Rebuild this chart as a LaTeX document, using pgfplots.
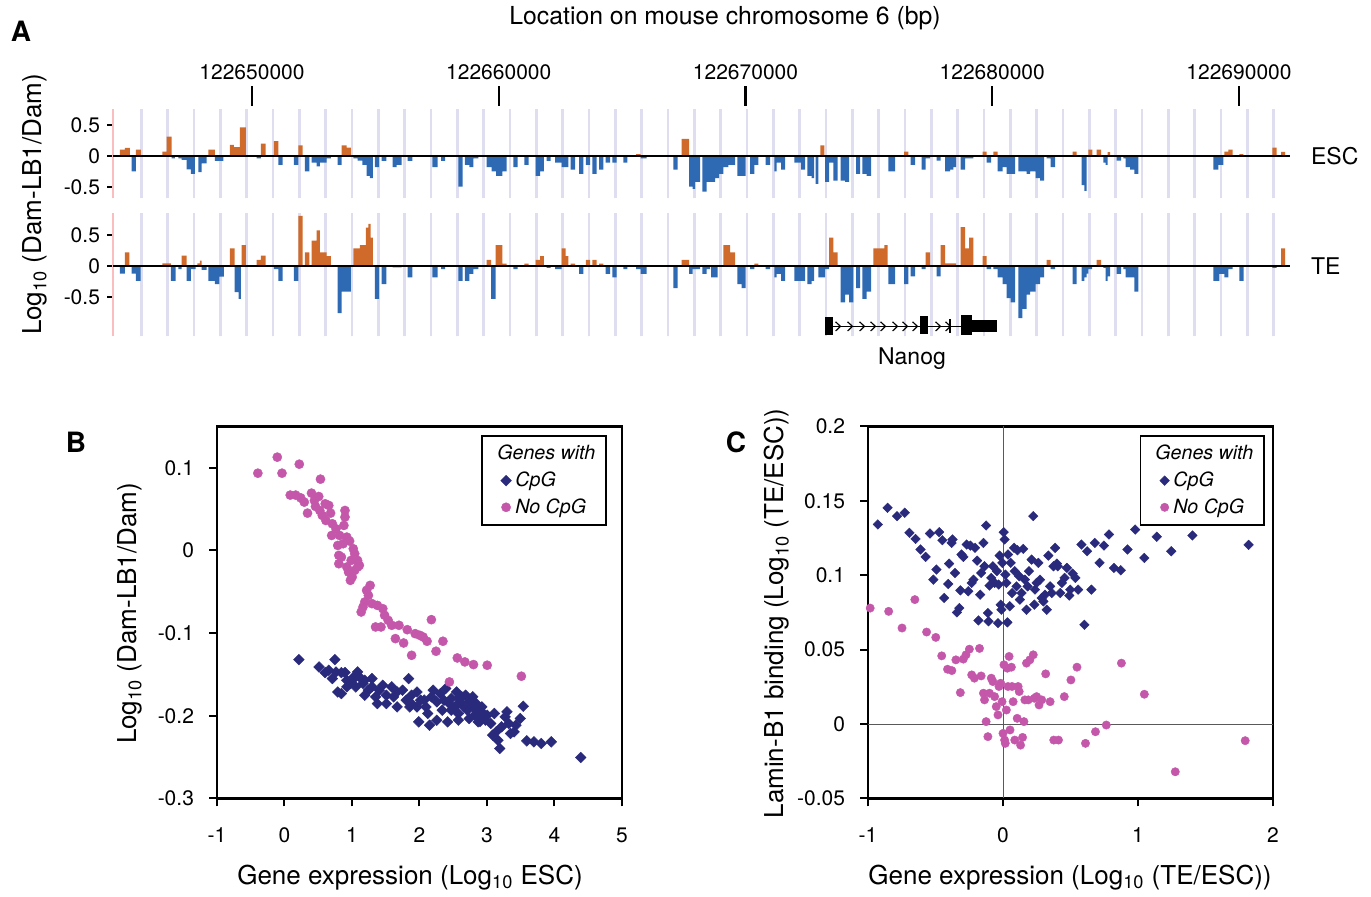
\documentclass[border=0pt]{standalone}
\usepackage{fontspec}
\setmainfont{TeX Gyre Heros}
\usepackage{pgfplots}
\usepackage{pgfplotstable}
\pgfplotsset{compat=1.18}
\definecolor{barorange}{RGB}{208,106,42}
\definecolor{barblue}{RGB}{46,106,180}
\definecolor{gridlav}{RGB}{222,222,240}
\definecolor{axpink}{RGB}{250,190,190}
\definecolor{navy}{RGB}{42,42,124}
\definecolor{pinkpt}{RGB}{196,87,170}

% Panel A: probe position (px along track, converted to kb) and log10 ratio
\pgfplotstableread{
px v
120 0.10
125 0.13
130 0
131.7 -0.25
136 0.10
141 0
162.3 0.07
166.7 0.31
171.7 -0.04
175 0
178.3 -0.04
181.7 -0.065
186.7 -0.215
191 -0.29
195 0
198.3 -0.26
201.7 -0.12
206.7 0
208.3 0.10
215 -0.08
223.3 0
230 0.18
234 0.14
240 0.46
246 0
256.7 -0.04
261 0.20
265.7 0
274 0.24
278.3 -0.145
282.7 0
294 -0.145
298.3 0.17
302.7 0
305 -0.25
309.3 0
311.7 -0.11
316.7 -0.17
320 -0.11
326.7 -0.04
331 0
337.7 -0.145
341.7 0.17
346.7 0.135
351 0
353.3 -0.04
357.7 -0.075
362.3 -0.145
366.7 -0.32
370 -0.36
373 0
375 -0.18
379 0
381.7 -0.08
386.3 0
392.7 -0.18
396.7 -0.145
401.7 0
407.7 -0.08
412.3 0
432.3 -0.18
437.7 0
441 -0.08
445 0
458.3 -0.495
462.7 0
465 -0.145
469.3 -0.18
473.3 -0.04
478.3 0
486.7 -0.18
491.7 -0.25
496 -0.32
502.3 -0.25
506.7 0
513.3 -0.18
517.7 0
524.3 -0.145
528.7 0
535.7 -0.32
540 -0.25
544 0
546.7 -0.08
550.7 0
555 -0.107
561.7 -0.18
568.3 0
570.7 -0.22
575 0
579 -0.29
583.3 0
586 -0.145
590 0
592.3 -0.29
596.7 0
599 -0.22
603.3 0
605.7 -0.107
610 0
612.3 -0.107
616.7 0
623.3 -0.107
627.3 0
636 0.03
640.7 -0.04
646.7 0
673.3 -0.22
677.7 0
681.7 0.274
689 -0.495
692.7 -0.53
695 -0.42
700 0
702.3 -0.575
706.7 -0.42
715 -0.36
719 -0.29
723.3 -0.18
728.3 -0.145
735 0
737.3 -0.32
745.7 0
750 -0.29
754.3 -0.145
758.3 0
765.7 -0.145
770 0
774.3 -0.25
776.7 -0.107
781 -0.22
785 0
794.3 -0.107
801 -0.22
805 0
807.3 -0.32
811.7 -0.36
814 0
815.7 -0.45
818.3 0
820.3 0.17
824.3 0
825 -0.42
829 -0.107
833.3 -0.40
837.7 0
840.7 -0.40
845 -0.42
849 0
856 -0.29
860 0
862.3 -0.29
866.7 -0.32
871 0
888.3 -0.25
895 0
904 0.07
908.3 0
910.7 -0.145
915 0
921.7 -0.22
925.7 -0.04
930 0
936.7 -0.075
940.7 0
945 -0.25
950 -0.22
953.3 -0.18
956 0
960.7 -0.22
965 -0.04
973.3 0
982.7 0.07
986.7 -0.107
991 0
993.3 0.07
997.7 -0.25
1002.7 -0.18
1006.7 -0.29
1015 0
1018.3 -0.25
1026.7 -0.29
1030 -0.25
1035.7 -0.36
1040 -0.40
1044 0
1046.7 -0.04
1050.7 -0.18
1055 0
1072.7 0.07
1076.7 0
1081.7 -0.47
1084.3 -0.565
1086.7 0
1088.3 0.10
1092.3 0
1096.7 0.10
1101 0
1103.3 -0.107
1105.7 -0.145
1107.7 0.06
1110 0
1116.7 -0.075
1121 0
1123.3 -0.04
1125.7 -0.18
1130 -0.22
1134.3 -0.29
1138.3 0
1213.3 -0.22
1218.3 -0.145
1223.3 0
1224.3 0.07
1228.3 0.10
1232.7 0
1239.3 0.03
1243.3 0
1272.3 0.134
1276.7 0
1281 0.065
1285 0
}\esctab

\pgfplotstableread{
px v
120 -0.12
125 0.22
129.3 0
131.7 -0.12
136 -0.24
140.7 0
162.3 0.045
171 -0.24
175.7 0
178.3 -0.05
181.7 0.17
186.7 -0.24
191 -0.05
195.7 0
197.3 0.045
200 0.09
201.7 -0.06
206.7 0
208.3 -0.24
215 -0.29
219.3 -0.17
224 0
230 0.285
234.7 -0.42
238.7 -0.53
241 0
241.7 0.34
246 0
256.7 0.10
261 0.17
265.7 0
274 -0.05
278.3 -0.24
282.7 0
294 -0.24
298.3 0.81
302.7 0
305 0.22
309.3 0
311.7 0.41
316.7 0.575
320 0.22
326.7 0.16
331 0
337.7 -0.76
341.7 -0.41
351 0
353.3 0.285
360 0.34
366 0.62
368.3 0.68
370.7 0.46
373 0
375 -0.53
379 0
381.7 -0.29
386.3 0
392.7 -0.02
401.7 0
407.7 -0.18
412.3 0
432.3 -0.18
437.7 0
441 -0.05
445 0
458.3 -0.24
462.7 0
465 -0.24
469.3 -0.125
473.3 -0.05
478.3 0
486.7 0.10
491 -0.53
495.7 0.34
502.3 0.04
506.7 0
513.3 -0.05
517.7 0
524.3 0.04
528.7 0
535.7 0.10
540 0.16
544 0
546.7 -0.03
550.7 0
555 -0.05
561.7 0.285
565.7 0.16
568.3 0
570.7 0.04
575 0
579 -0.124
583.3 0
586 0.10
590 0
592.3 0.10
596.7 0
599 0.04
603.3 0
605.7 -0.124
610 0
612.3 -0.18
616.7 0
623.3 -0.05
627.3 0
636 -0.05
640.7 -0.124
646.7 0
673.3 -0.355
677.7 0
681.7 0.10
689 -0.124
692.7 -0.05
700 0
702.3 -0.124
706.7 -0.05
710 0
711 -0.18
717.7 0
723.3 0.34
730 0.22
735 0
737.3 -0.29
741.7 -0.355
745.7 0
750 -0.05
754.3 0.04
758.3 0
765.7 -0.05
770 0
774.3 -0.18
776.7 -0.124
781 -0.237
785 0
794.3 -0.237
805 0
807.3 -0.29
811.7 -0.237
814 0
818.3 -0.18
825 -0.05
829 0.46
833.3 0.22
837.7 0
840.7 -0.586
845 -0.46
849 -0.586
853.3 0
856 -0.355
860 0
862.3 -0.527
866.7 -0.41
871 0
873.3 0.285
884.3 0.34
887.7 0
888.3 -0.29
895 0
904 -0.29
908.3 0
910.7 -0.167
915 0
921.7 -0.05
925.7 0.22
930 0
936.7 -0.167
940.7 0.34
945 0.043
956 0
960.7 0.63
965 0.285
969 0.46
973.3 0
982.7 0.16
986.7 -0.05
991 0
993.3 -0.05
997.7 -0.18
1002.7 -0.29
1006.7 -0.516
1010.7 -0.586
1015 0
1018.3 -0.84
1022.3 -0.69
1026.7 -0.46
1030 -0.41
1035.7 -0.29
1040 -0.18
1044 0
1046.7 0.10
1050.7 -0.05
1055 0
1072.7 -0.29
1076.7 0
1081.7 -0.237
1084.3 -0.18
1086.7 -0.12
1088.3 -0.05
1092 0
1096.7 0.10
1101 0
1103.3 -0.03
1105.7 -0.237
1107.7 -0.167
1110 0
1116.7 -0.124
1121 0
1123.3 -0.05
1125.7 -0.18
1134.3 -0.41
1138.3 0
1213.3 -0.237
1219.3 -0.124
1224.3 -0.18
1228.3 -0.05
1232.7 0
1239.3 -0.237
1243.7 0
1272.3 -0.03
1276.7 0
1281 0.285
1285 0
}\tetab

% Panel B
\pgfplotstableread{
x y
-0.395 0.0934
-0.107 0.1128
-0.037 0.0934
0.219 0.1043
0.533 0.0862
0.085 0.0669
0.165 0.0669
0.240 0.0636
0.293 0.0584
0.341 0.0451
0.400 0.0693
0.443 0.0604
0.507 0.0652
0.459 0.0532
0.523 0.0483
0.560 0.0423
0.613 0.0362
0.656 0.0544
0.603 0.0564
0.683 0.0451
0.709 0.0322
0.763 0.0262
0.816 0.0181
0.699 0.0181
0.896 0.0483
0.896 0.0403
0.880 0.0302
0.923 0.0161
0.789 0.0060
0.869 0.0081
0.965 0.0113
1.019 0.0020
1.040 -0.0040
1.083 -0.0121
0.987 -0.0121
0.923 -0.0201
0.805 -0.0161
0.805 -0.0060
0.843 -0.0081
0.949 -0.0262
1.003 -0.0322
0.976 -0.0362
1.083 -0.0201
1.109 -0.0181
1.040 -0.0242
1.269 -0.0423
1.216 -0.0483
1.243 -0.0544
1.189 -0.0624
1.163 -0.0685
1.136 -0.0745
1.296 -0.0644
1.376 -0.0665
1.456 -0.0705
1.483 -0.0785
1.536 -0.0846
1.349 -0.0926
1.429 -0.0926
1.589 -0.0906
1.696 -0.0906
1.819 -0.0959
1.643 -0.1067
1.765 -0.1120
1.883 -0.1269
1.936 -0.1007
2.005 -0.1027
2.053 -0.1047
2.112 -0.1099
2.176 -0.0838
2.245 -0.1220
2.347 -0.1099
2.443 -0.1591
2.560 -0.1301
2.672 -0.1349
2.800 -0.1381
3.003 -0.1389
3.509 -0.1522
}\bnocpg

\pgfplotstableread{
x y
0.213 -0.1321
0.512 -0.1410
0.747 -0.1321
0.603 -0.1478
0.656 -0.1450
0.763 -0.1470
0.843 -0.1478
0.896 -0.1478
0.789 -0.1712
0.843 -0.1732
0.923 -0.1651
0.976 -0.1611
1.029 -0.1530
1.083 -0.1470
1.003 -0.1571
0.923 -0.1571
1.056 -0.1651
1.163 -0.1611
1.109 -0.1530
1.189 -0.1752
1.243 -0.1691
1.296 -0.1551
1.349 -0.1772
1.376 -0.1853
1.456 -0.1631
1.403 -0.1691
1.509 -0.1853
1.509 -0.1752
1.589 -0.1651
1.616 -0.1772
1.669 -0.1893
1.669 -0.1712
1.749 -0.1691
1.803 -0.1812
1.840 -0.1551
1.856 -0.1893
1.883 -0.1752
1.963 -0.1712
1.963 -0.1893
1.989 -0.2074
2.016 -0.1812
2.096 -0.1893
2.123 -0.1973
2.149 -0.2114
2.176 -0.1772
2.203 -0.1691
2.256 -0.1832
2.309 -0.1732
2.336 -0.1933
2.363 -0.1812
2.389 -0.1671
2.416 -0.2074
2.443 -0.1853
2.469 -0.1792
2.523 -0.1893
2.549 -0.1712
2.576 -0.1973
2.603 -0.1832
2.629 -0.1772
2.656 -0.1893
2.709 -0.1933
2.683 -0.1752
2.736 -0.1832
2.789 -0.1893
2.816 -0.1994
2.843 -0.1933
2.869 -0.2074
2.896 -0.2014
2.923 -0.1893
2.949 -0.1973
2.976 -0.2054
3.003 -0.1994
3.056 -0.2094
3.083 -0.2235
3.109 -0.1973
3.136 -0.2195
3.163 -0.2296
3.189 -0.2396
3.216 -0.2134
3.269 -0.2014
3.296 -0.1953
3.323 -0.2094
3.349 -0.2215
3.403 -0.2195
3.429 -0.2114
3.493 -0.2034
3.536 -0.1885
3.589 -0.2304
3.696 -0.2316
3.803 -0.2336
3.952 -0.2316
4.389 -0.2505
2.256 -0.2054
1.883 -0.1853
2.469 -0.1933
2.843 -0.1853
2.576 -0.2054
2.736 -0.2034
1.189 -0.1570
0.709 -0.1550
1.296 -0.1650
2.069 -0.1810
2.576 -0.1790
2.789 -0.1770
2.896 -0.2070
}\bcpg

% Panel C
\pgfplotstableread{
x y
-0.927 0.1341
-0.855 0.1453
-0.785 0.1397
-0.728 0.1420
-0.693 0.1285
-0.648 0.1244
-0.611 0.1173
-0.573 0.1123
-0.541 0.1280
-0.516 0.0970
-0.493 0.1038
-0.473 0.1289
-0.449 0.1235
-0.436 0.0847
-0.406 0.0941
-0.399 0.1078
-0.381 0.1217
-0.374 0.1240
-0.356 0.1015
-0.341 0.0750
-0.324 0.0779
-0.316 0.0898
-0.307 0.1139
-0.294 0.1123
-0.269 0.1206
-0.257 0.0892
-0.242 0.1199
-0.232 0.0948
-0.219 0.0970
-0.207 0.1184
-0.192 0.1098
-0.182 0.0696
-0.169 0.0869
-0.162 0.1015
-0.145 0.1217
-0.137 0.1060
-0.125 0.1334
-0.112 0.0746
-0.107 0.0690
-0.100 0.0930
-0.087 0.0982
-0.075 0.1060
-0.062 0.0948
-0.045 0.1027
-0.037 0.0678
-0.032 0.0937
-0.025 0.1132
-0.017 0.0802
-0.012 0.0768
-0.005 0.1083
0.005 0.1289
0.012 0.1240
0.017 0.1004
0.025 0.0948
0.032 0.0683
0.037 0.1139
0.050 0.0791
0.057 0.1083
0.067 0.0880
0.082 0.1184
0.087 0.1027
0.100 0.0925
0.107 0.1168
0.120 0.0993
0.125 0.0836
0.137 0.0880
0.150 0.1177
0.162 0.0970
0.174 0.0768
0.182 0.0925
0.192 0.1027
0.212 0.1105
0.224 0.1397
0.232 0.0802
0.237 0.0903
0.249 0.0948
0.262 0.1083
0.274 0.0970
0.287 0.0847
0.299 0.0824
0.311 0.0869
0.324 0.0768
0.336 0.1132
0.349 0.0925
0.361 0.0880
0.374 0.1060
0.386 0.1184
0.399 0.1078
0.406 0.1060
0.424 0.0880
0.436 0.0948
0.456 0.0982
0.473 0.1049
0.491 0.0863
0.498 0.0903
0.516 0.1011
0.536 0.0982
0.556 0.0903
0.581 0.1206
0.603 0.0667
0.623 0.1161
0.655 0.0903
0.680 0.1217
0.715 0.1083
0.748 0.1199
0.785 0.1274
0.822 0.1049
0.872 0.1033
0.922 0.1173
0.979 0.1307
1.047 0.1116
1.139 0.1258
1.246 0.1161
1.403 0.1267
1.819 0.1204
}\ccpg

\pgfplotstableread{
x y
-0.984 0.0779
-0.847 0.0757
-0.748 0.0645
-0.653 0.0836
-0.566 0.0618
-0.498 0.0582
-0.454 0.0458
-0.411 0.0368
-0.379 0.0359
-0.349 0.0431
-0.316 0.0211
-0.294 0.0436
-0.274 0.0465
-0.249 0.0503
-0.232 0.0330
-0.212 0.0308
-0.174 0.0508
-0.162 0.0323
-0.145 0.0207
-0.137 0.0162
-0.125 0.0016
-0.112 -0.0085
-0.100 0.0207
-0.087 0.0308
-0.075 0.0285
-0.062 0.0184
-0.050 0.0117
-0.037 0.0061
-0.030 0.0252
-0.017 0.0274
-0.007 0.0150
0.000 -0.0063
0.007 0.0398
0.012 -0.0108
0.017 -0.0130
0.025 0.0094
0.032 0.0375
0.037 0.0252
0.045 0.0454
0.052 -0.0040
0.062 0.0382
0.067 0.0252
0.075 0.0150
0.087 -0.0108
0.105 0.0038
0.112 0.0252
0.120 0.0218
0.130 -0.0142
0.145 -0.0090
0.155 0.0016
0.162 0.0162
0.174 0.0409
0.187 0.0162
0.199 0.0431
0.224 0.0465
0.232 0.0173
0.249 0.0184
0.267 0.0128
0.287 0.0162
0.316 0.0337
0.349 0.0150
0.376 -0.0108
0.411 -0.0108
0.454 0.0184
0.503 0.0296
0.548 0.0382
0.611 -0.0130
0.685 -0.0052
0.765 -0.0007
0.877 0.0409
1.047 0.0200
1.276 -0.0321
1.794 -0.0112
}\cnocpg

\pgfplotsset{
  tlab/.style={font=\fontsize{10.5}{12.6}\selectfont},
  trackA/.style={
    scale only axis, width=588.5pt,
    xmin=4.367, xmax=52.067,
    axis x line*=bottom, x axis line style={draw=none},
    xtick={5.514,6.5811,...,51.41}, xticklabels={},
    xtick align=inside,
    xtick style={draw=gridlav, line width=1.3pt},
    xmajorgrids, major x grid style={draw=gridlav, line width=1.3pt},
    axis y line*=left, y axis line style={draw=axpink, line width=0.9pt},
    ytick={-0.5,0,0.5}, yticklabels={-0.5,0,0.5},
    ytick align=outside, major tick length=3pt,
    ytick style={black, line width=0.9pt},
    tick label style={tlab},
  },
  scat/.style={
    scale only axis, width=202.5pt, height=186pt,
    tick pos=left, tick align=outside, major tick length=4pt,
    tick style={black, line width=1pt},
    axis line style={line width=1.2pt},
    tick label style={tlab},
    xticklabel style={yshift=-7pt},
    yticklabel style={xshift=-4pt},
    legend cell align=left,
    legend style={at={(1,1)}, anchor=north east, draw=black, line width=0.8pt,
      font=\itshape\fontsize{9.8}{11.8}\selectfont, inner xsep=3.5pt, inner ysep=2.5pt, row sep=0.5pt},
  },
}

\begin{document}
\begin{tikzpicture}[font=\fontsize{10.5}{12.6}\selectfont]
\path (0,0) rectangle (685.5pt,-447pt);

% ruler with bp positions
\begin{axis}[scale only axis, width=588.5pt, height=2pt,
  at={(56.5pt,-52.5pt)}, anchor=north west,
  xmin=4.367, xmax=52.067, ymin=0, ymax=1,
  axis x line*=top, x axis line style={draw=none},
  axis y line=none, ytick=\empty,
  xtick={10,20,30,40,50},
  xticklabels={122650000,122660000,122670000,122680000,122690000},
  xtick align=outside, major tick length=10pt,
  xtick style={black, line width=1.2pt},
  tick label style={tlab},
]
\end{axis}

% ESC track
\begin{axis}[trackA, height=44.5pt, at={(56.5pt,-54pt)}, anchor=north west,
  ymin=-0.685, ymax=0.75]
\addplot[const plot, draw=none, fill=barorange] table[x expr={10+(\thisrow{px}-252)/24.675}, y expr={max(\thisrow{v},0)}] {\esctab} \closedcycle;
\addplot[const plot, draw=none, fill=barblue] table[x expr={10+(\thisrow{px}-252)/24.675}, y expr={min(\thisrow{v},0)}] {\esctab} \closedcycle;
\draw[black, line width=0.8pt] (axis cs:4.367,0) -- (axis cs:52.067,0);
\end{axis}

% TE track
\begin{axis}[trackA, height=61.5pt, at={(56.5pt,-106pt)}, anchor=north west,
  ymin=-1.134, ymax=0.85]
\addplot[const plot, draw=none, fill=barorange] table[x expr={10+(\thisrow{px}-252)/24.675}, y expr={max(\thisrow{v},0)}] {\tetab} \closedcycle;
\addplot[const plot, draw=none, fill=barblue] table[x expr={10+(\thisrow{px}-252)/24.675}, y expr={min(\thisrow{v},0)}] {\tetab} \closedcycle;
\draw[black, line width=0.8pt] (axis cs:4.367,0) -- (axis cs:52.067,0);
\end{axis}

% Nanog gene model
\draw[line width=0.8pt] (412.5pt,-162.5pt) -- (498.5pt,-162.5pt);
\fill (412.5pt,-158pt) rectangle (416.5pt,-167pt);
\fill (460pt,-157.5pt) rectangle (463.8pt,-166.5pt);
\draw[line width=0.8pt] (475pt,-159pt) -- (475pt,-166pt);
\fill (480.5pt,-157pt) rectangle (486pt,-167pt);
\fill (486pt,-159.5pt) rectangle (498.5pt,-165.5pt);
\foreach \cx in {419,425,431,436.5,441.5,447.5,452.5,457.5,469,474}{
  \draw[line width=0.6pt] (\cx pt-1.2pt,-160.2pt) -- (\cx pt+1.2pt,-162.5pt) -- (\cx pt-1.2pt,-164.8pt);
}
\node at (456pt,-178.5pt) {\fontsize{11.5}{13.8}\selectfont Nanog};

% Panel B
\begin{axis}[scat, at={(108.5pt,-212.5pt)}, anchor=north west,
  xmin=-1, xmax=5, ymin=-0.3, ymax=0.15,
  xtick={-1,0,1,2,3,4,5}, xticklabels={-1,0,1,2,3,4,5},
  ytick={-0.3,-0.2,-0.1,0,0.1}, yticklabels={-0.3,-0.2,-0.1,0,0.1},
  legend style={xshift=-7.5pt, yshift=-4.5pt},
]
\addlegendimage{empty legend}
\addlegendentry{\hspace{-9pt}Genes with}
\addplot[only marks, mark=square*, mark size=1.9pt, mark options={rotate=45, fill=navy, draw=navy, line width=0.2pt}] table {\bcpg};
\addlegendentry{CpG}
\addplot[only marks, mark=*, mark size=2.3pt, mark options={fill=pinkpt, draw=pinkpt, line width=0.2pt}] table {\bnocpg};
\addlegendentry{No CpG}
\end{axis}

% Panel C
\begin{axis}[scat, at={(434pt,-212.5pt)}, anchor=north west,
  xmin=-1, xmax=2, ymin=-0.05, ymax=0.2,
  xtick={-1,0,1,2}, xticklabels={-1,0,1,2},
  ytick={-0.05,0,0.05,0.1,0.15,0.2}, yticklabels={-0.05,0,0.05,0.1,0.15,0.2},
  legend style={xshift=-4pt, yshift=-4.5pt},
]
\draw[black!65, line width=0.5pt] (axis cs:0,-0.05) -- (axis cs:0,0.2);
\draw[black!65, line width=0.5pt] (axis cs:-1,0) -- (axis cs:2,0);
\addlegendimage{empty legend}
\addlegendentry{\hspace{-9pt}Genes with}
\addplot[only marks, mark=square*, mark size=1.7pt, mark options={rotate=45, fill=navy, draw=navy, line width=0.2pt}] table {\ccpg};
\addlegendentry{CpG}
\addplot[only marks, mark=*, mark size=2.1pt, mark options={fill=pinkpt, draw=pinkpt, line width=0.2pt}] table {\cnocpg};
\addlegendentry{No CpG}
\end{axis}

% Titles and labels
\node at (362.5pt,-8.5pt) {\fontsize{12.4}{14.9}\selectfont Location on mouse chromosome 6 (bp)};
\node at (10.5pt,-15pt) {\fontsize{14}{16.8}\selectfont\bfseries A};
\node at (38pt,-220.5pt) {\fontsize{14}{16.8}\selectfont\bfseries B};
\node at (368pt,-220.5pt) {\fontsize{14}{16.8}\selectfont\bfseries C};
\node[rotate=90] at (17.5pt,-101.5pt) {\fontsize{13}{15.6}\selectfont Log\textsubscript{10} (Dam-LB1/Dam)};
\node[anchor=west] at (652pt,-77.5pt) {\fontsize{11.5}{13.8}\selectfont ESC};
\node[anchor=west] at (652pt,-132.5pt) {\fontsize{11.5}{13.8}\selectfont TE};
\node[rotate=90] at (65pt,-306pt) {\fontsize{13}{15.6}\selectfont Log\textsubscript{10} (Dam-LB1/Dam)};
\node at (205pt,-438pt) {\fontsize{13}{15.6}\selectfont Gene expression (Log\textsubscript{10} ESC)};
\node[rotate=90] at (388.5pt,-306pt) {\fontsize{13}{15.6}\selectfont Lamin-B1 binding (Log\textsubscript{10} (TE/ESC))};
\node at (535pt,-438pt) {\fontsize{13}{15.6}\selectfont Gene expression (Log\textsubscript{10} (TE/ESC))};
\end{tikzpicture}
\end{document}
